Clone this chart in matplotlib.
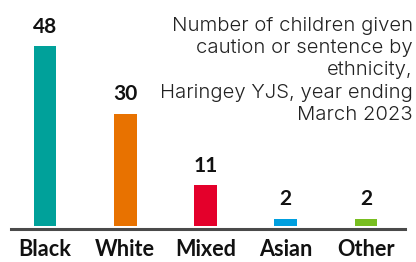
import matplotlib
matplotlib.use("Agg")
import matplotlib.pyplot as plt

categories = ["Black", "White", "Mixed", "Asian", "Other"]
values = [48, 30, 11, 2, 2]
colors = ["#00A19A", "#E87200", "#E4002B", "#009FDF", "#78BE20"]
title = "Number of children given\ncaution or sentence by\nethnicity,\nHaringey YJS, year ending\nMarch 2023"

W, H = 416, 262
fig = plt.figure(figsize=(W / 100, H / 100), dpi=100)
ax = fig.add_axes([11 / W, (H - 229) / H, (405 - 11) / W, 229 / H])

x = list(range(len(categories)))
ax.bar(x, values, width=0.285, color=colors, zorder=2)

px_per_unit = 80.25
ax.set_xlim((11 - 45) / px_per_unit, 4 + (405 - 366) / px_per_unit)
ppu_y = 180 / 48
ax.set_ylim(-3 / ppu_y, 229 / ppu_y - 3 / ppu_y)

for s in ["top", "right", "left"]:
    ax.spines[s].set_visible(False)
ax.spines["bottom"].set_color("#4a4a4a")
ax.spines["bottom"].set_linewidth(2.2)
ax.set_yticks([])
ax.set_xticks(x)
ax.set_xticklabels(categories, fontsize=15.6, fontweight="bold", family="Lato", color="#111111")
ax.tick_params(axis="x", length=0, pad=7)

for xi, v in zip(x, values):
    ax.annotate(str(v), (xi, v), xytext=(0, 6.5), textcoords="offset points",
                ha="center", va="bottom", fontsize=15, fontweight="bold",
                family="Lato", color="#111111")

fig.text(413 / W, 1 - 17 / H, title, ha="right", va="top", fontsize=14.6,
         family="Inter", fontweight=300, color="#222222", linespacing=1.3)

fig.savefig("out.png", dpi=100)
